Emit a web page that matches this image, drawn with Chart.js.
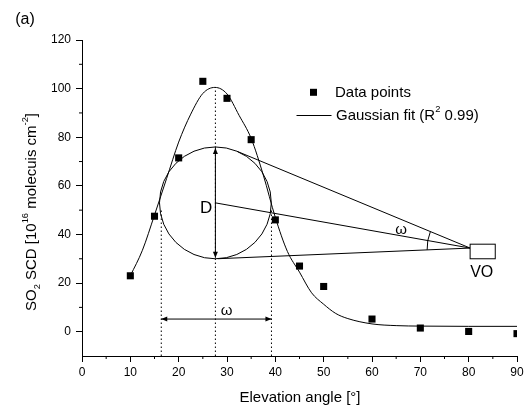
<!DOCTYPE html>
<html>
<head>
<meta charset="utf-8">
<script src="https://cdn.jsdelivr.net/npm/chart.js@4/dist/chart.umd.min.js"></script>
<style>
  body { margin: 0; background: #fff; }
  canvas { display: block; }
</style>
</head>
<body>
<canvas id="chart" width="527" height="411"></canvas>
<script>
// measured points
const elevation = [10, 15, 20, 25, 30, 35, 40, 45, 50, 60, 70, 80, 90];
const so2Scd = [23, 47.5, 71.5, 103, 96, 79, 46, 27, 18.6, 5.2, 1.5, 0.1, -0.8];

// gaussian fit curve
const fitAngle = [10, 12.5, 15, 17.5, 20, 22.5, 25, 27.5, 30, 32.5, 35, 37.5, 40, 42.5, 45, 47.5, 50, 52.5, 55, 60, 65, 70, 80, 90];
const fitScd = [23, 33.5, 48, 63, 78, 89.5, 98, 100.5, 97.8, 89, 79.5, 64.5, 47, 33, 24.5, 16, 11.3, 7.5, 5.4, 3.2, 2.5, 2.3, 2.2, 2.2];

// axis ticks
const xTicks = [0, 10, 20, 30, 40, 50, 60, 70, 80, 90];
const yTicks = [0, 20, 40, 60, 80, 100, 120];
const xMinor = [5, 15, 25, 35, 45, 55, 65, 75, 85];
const yMinor = [10, 30, 50, 70, 90, 110];

const FONT = '"Liberation Sans", Arial, sans-serif';
const font = (size) => size + 'px ' + FONT;

// sketch of the viewing geometry (data units)
const diagram = {
    circle: { x: 27.6, y: 53, r: 23 },
    apex: { x: 80.3, y: 34.4 },
    box: { x0: 80.3, x1: 85.5, y0: 30, y1: 36 },
    guides: [{ x: 16.4, top: 50 }, { x: 27.6, top: 100.5 }, { x: 39.2, top: 50 }],
    span: { x0: 16.4, x1: 39.2, y: 5.2 },
};

function arrowHead(ctx, x, y, ang) {
    const len = 6, hw = 2.5;
    ctx.beginPath();
    ctx.moveTo(x, y);
    ctx.lineTo(x - len * Math.cos(ang) - hw * Math.sin(ang), y - len * Math.sin(ang) + hw * Math.cos(ang));
    ctx.lineTo(x - len * Math.cos(ang) + hw * Math.sin(ang), y - len * Math.sin(ang) - hw * Math.cos(ang));
    ctx.closePath();
    ctx.fill();
}

// parts: [text, shift]  shift 1 = superscript, -1 = subscript
function richText(ctx, parts, x, y, size, align) {
    const widths = parts.map(([t, s]) => {
        ctx.font = font(s ? size * 0.62 : size);
        return ctx.measureText(t).width;
    });
    const total = widths.reduce((p, c) => p + c, 0);
    let cx = align === 'center' ? x - total / 2 : x;
    ctx.textAlign = 'left';
    ctx.textBaseline = 'middle';
    parts.forEach(([t, s], i) => {
        ctx.font = font(s ? size * 0.62 : size);
        ctx.fillText(t, cx, y - s * size * 0.38);
        cx += widths[i];
    });
}

const sketch = {
    id: 'sketch',
    afterDatasetsDraw(chart) {
        const { ctx, chartArea: a, scales: { x, y } } = chart;
        const px = (v) => x.getPixelForValue(v);
        const py = (v) => y.getPixelForValue(v);
        ctx.save();
        ctx.strokeStyle = '#000';
        ctx.fillStyle = '#000';
        ctx.lineWidth = 1;

        // minor ticks
        ctx.beginPath();
        xMinor.forEach(v => { ctx.moveTo(px(v), a.bottom); ctx.lineTo(px(v), a.bottom + 3); });
        yMinor.forEach(v => { ctx.moveTo(a.left - 3, py(v)); ctx.lineTo(a.left, py(v)); });
        ctx.stroke();

        // dotted guides
        ctx.setLineDash([1.5, 2.5]);
        ctx.beginPath();
        diagram.guides.forEach(g => { ctx.moveTo(px(g.x), a.bottom); ctx.lineTo(px(g.x), py(g.top)); });
        ctx.stroke();
        ctx.setLineDash([]);

        // circle
        const c = diagram.circle;
        const cx = px(c.x), cy = py(c.y);
        const r = Math.abs(py(c.y + c.r) - cy);
        ctx.beginPath();
        ctx.arc(cx, cy, r, 0, Math.PI * 2);
        ctx.stroke();

        // diameter D
        ctx.beginPath();
        ctx.moveTo(cx, cy - r + 1);
        ctx.lineTo(cx, cy + r - 1);
        ctx.stroke();
        arrowHead(ctx, cx, cy - r + 1, -Math.PI / 2);
        arrowHead(ctx, cx, cy + r - 1, Math.PI / 2);
        ctx.font = font(17);
        ctx.textAlign = 'right';
        ctx.textBaseline = 'middle';
        ctx.fillText('D', cx - 3, cy + 5);

        // tangent lines to the instrument
        const P = { x: px(diagram.apex.x), y: py(diagram.apex.y) };
        const d = Math.hypot(P.x - cx, P.y - cy);
        const th = Math.atan2(P.y - cy, P.x - cx);
        const al = Math.acos(r / d);
        const t1 = { x: cx + r * Math.cos(th - al), y: cy + r * Math.sin(th - al) };
        const t2 = { x: cx + r * Math.cos(th + al), y: cy + r * Math.sin(th + al) };
        ctx.beginPath();
        ctx.moveTo(t1.x, t1.y); ctx.lineTo(P.x, P.y);
        ctx.moveTo(t2.x, t2.y); ctx.lineTo(P.x, P.y);
        ctx.moveTo(cx, cy); ctx.lineTo(P.x, P.y);
        ctx.stroke();

        // angle arc
        const norm = (q) => (q + Math.PI * 2) % (Math.PI * 2);
        const a1 = norm(Math.atan2(t1.y - P.y, t1.x - P.x));
        const a2 = norm(Math.atan2(t2.y - P.y, t2.x - P.x));
        ctx.beginPath();
        ctx.arc(P.x, P.y, 43, Math.min(a1, a2), Math.max(a1, a2));
        ctx.stroke();
        ctx.font = font(15);
        ctx.textAlign = 'center';
        ctx.fillText('ω', px(66), py(42));

        // instrument box
        const b = diagram.box;
        ctx.fillStyle = '#fff';
        ctx.fillRect(px(b.x0), py(b.y1), px(b.x1) - px(b.x0), py(b.y0) - py(b.y1));
        ctx.strokeRect(px(b.x0), py(b.y1), px(b.x1) - px(b.x0), py(b.y0) - py(b.y1));
        ctx.fillStyle = '#000';
        ctx.font = font(16);
        ctx.fillText('VO', px(82.7), py(24.4));

        // horizontal omega span
        const s = diagram.span;
        ctx.beginPath();
        ctx.moveTo(px(s.x0), py(s.y)); ctx.lineTo(px(s.x1), py(s.y));
        ctx.stroke();
        arrowHead(ctx, px(s.x0), py(s.y), Math.PI);
        arrowHead(ctx, px(s.x1), py(s.y), 0);
        ctx.font = font(15);
        ctx.fillText('ω', px(29.9), py(8.6));

        ctx.restore();
    },
    afterDraw(chart) {
        const { ctx, chartArea: a } = chart;
        ctx.save();
        ctx.fillStyle = '#000';
        ctx.strokeStyle = '#000';

        // panel label
        ctx.font = font(16);
        ctx.textAlign = 'center';
        ctx.textBaseline = 'middle';
        ctx.fillText('(a)', 25, 20);

        // x title
        ctx.font = font(15);
        ctx.fillText('Elevation angle [°]', 300, 398);

        // y title
        ctx.translate(31.5, 212);
        ctx.rotate(-Math.PI / 2);
        richText(ctx, [['SO', 0], ['2', -1], [' SCD [10', 0], ['16', 1], [' molecuis cm', 0], ['-2', 1], [']', 0]], 0, 0, 15, 'center');
        ctx.setTransform(1, 0, 0, 1, 0, 0);

        // legend
        ctx.fillRect(313.5 - 3.5, 92.3 - 3.5, 7, 7);
        ctx.font = font(15);
        ctx.textAlign = 'left';
        ctx.fillText(chart.data.datasets[0].label, 335, 92.5);
        ctx.lineWidth = 1;
        ctx.beginPath();
        ctx.moveTo(296.5, 115.5); ctx.lineTo(331.5, 115.5);
        ctx.stroke();
        richText(ctx, [['Gaussian fit (R', 0], ['2', 1], [' 0.99)', 0]], 336, 115.5, 15, 'left');
        ctx.restore();
    }
};

new Chart(document.getElementById('chart'), {
    type: 'scatter',
    data: {
        datasets: [
            {
                label: 'Data points',
                data: elevation.map((v, i) => ({ x: v, y: so2Scd[i] })),
                pointStyle: 'rect',
                pointRadius: 5,
                pointBackgroundColor: '#000',
                pointBorderWidth: 0,
                showLine: false,
            },
            {
                type: 'line',
                label: 'Gaussian fit',
                data: fitAngle.map((v, i) => ({ x: v, y: fitScd[i] })),
                borderColor: '#000',
                borderWidth: 1,
                pointRadius: 0,
                fill: false,
                cubicInterpolationMode: 'monotone',
            },
        ],
    },
    options: {
        responsive: false,
        animation: false,
        layout: { padding: { top: 40, right: 10, left: 0, bottom: 0 } },
        plugins: {
            legend: { display: false },
            tooltip: { enabled: false },
        },
        scales: {
            x: {
                type: 'linear',
                min: 0,
                max: 90,
                afterBuildTicks: s => { s.ticks = xTicks.map(v => ({ value: v })); },
                afterFit: s => { s.height = 55; },
                ticks: { color: '#000', font: { size: 12, family: FONT }, padding: 3, maxRotation: 0, autoSkip: false },
                grid: { drawOnChartArea: false, drawTicks: true, tickLength: 6, color: '#000' },
                border: { color: '#000', width: 1 },
            },
            y: {
                min: -10,
                max: 120,
                afterBuildTicks: s => { s.ticks = yTicks.map(v => ({ value: v })); },
                afterFit: s => { s.width = 82; },
                ticks: { color: '#000', font: { size: 12, family: FONT }, padding: 5 },
                grid: { drawOnChartArea: false, drawTicks: true, tickLength: 6, color: '#000' },
                border: { color: '#000', width: 1 },
            },
        },
    },
    plugins: [sketch],
});
</script>
</body>
</html>
